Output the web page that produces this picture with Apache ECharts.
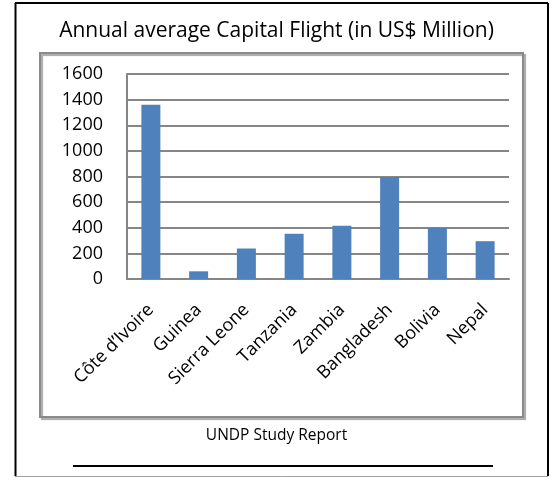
<!DOCTYPE html>
<html>
<head>
<meta charset="utf-8">
<script src="https://cdn.jsdelivr.net/npm/echarts@6/dist/echarts.min.js"></script>
<style>
html,body{margin:0;padding:0;background:#fff;}
#c{width:553px;height:477px;}
</style>
</head>
<body>
<div id="c"></div>
<script>
const categories = ["Côte d’Ivoire", "Guinea", "Sierra Leone", "Tanzania", "Zambia", "Bangladesh", "Bolivia", "Nepal"];
const capitalFlight = [1360, 60, 238, 353, 415, 797, 400, 295];
const yTicks = [0, 200, 400, 600, 800, 1000, 1200, 1400, 1600];
const titleText = "Annual average Capital Flight (in US$ Million)";
const captionText = "UNDP Study Report";

const FONT = "'Open Sans', sans-serif";
const chart = echarts.init(document.getElementById('c'), null, {renderer: 'canvas'});
chart.setOption({
  animation: false,
  backgroundColor: '#fff',
  title: {
    text: titleText,
    left: 'center',
    top: 16,
    textStyle: {fontFamily: FONT, fontSize: 21, fontWeight: 'normal', color: '#000'}
  },
  grid: {left: 127, right: 44, top: 74, bottom: 198, containLabel: false},
  xAxis: {
    type: 'category',
    data: categories,
    axisLine: {lineStyle: {color: '#868686', width: 2}},
    axisTick: {show: false},
    axisLabel: {rotate: 45, margin: 28, interval: 0, fontFamily: FONT, fontSize: 18, color: '#000'}
  },
  yAxis: {
    type: 'value',
    min: yTicks[0],
    max: yTicks[yTicks.length - 1],
    interval: 200,
    axisLine: {show: true, lineStyle: {color: '#868686', width: 2}},
    axisTick: {show: false},
    splitLine: {lineStyle: {color: '#868686', width: 2}},
    axisLabel: {margin: 24, fontFamily: FONT, fontSize: 18, color: '#000', formatter: v => String(v)}
  },
  series: [{
    type: 'bar',
    data: capitalFlight,
    barWidth: 19,
    itemStyle: {color: '#4F81BD'}
  }],
  graphic: [
    // outer frame
    {type: 'line', shape: {x1: 15, y1: 3, x2: 548, y2: 3}, style: {stroke: '#000', lineWidth: 2}},
    {type: 'line', shape: {x1: 15.5, y1: 3, x2: 15.5, y2: 476}, style: {stroke: '#000', lineWidth: 2}},
    {type: 'line', shape: {x1: 548, y1: 3, x2: 548, y2: 476}, style: {stroke: '#000', lineWidth: 2}},
    {type: 'line', shape: {x1: 15, y1: 476.5, x2: 548, y2: 476.5}, style: {stroke: '#a0a0a0', lineWidth: 1}},
    // chart box with shadow
    {type: 'rect', shape: {x: 40, y: 53, width: 483, height: 364}, z: -1,
      style: {fill: 'none', stroke: '#8a8a8a', lineWidth: 2, shadowColor: 'rgba(0,0,0,0.35)', shadowOffsetX: 2, shadowOffsetY: 2, shadowBlur: 1}},
    // caption
    {type: 'text', left: 'center', top: 428, style: {text: captionText, font: "15.5px 'Open Sans', sans-serif", fill: '#000'}},
    {type: 'line', shape: {x1: 73, y1: 466, x2: 493, y2: 466}, style: {stroke: '#000', lineWidth: 2}}
  ]
});
</script>
</body>
</html>
